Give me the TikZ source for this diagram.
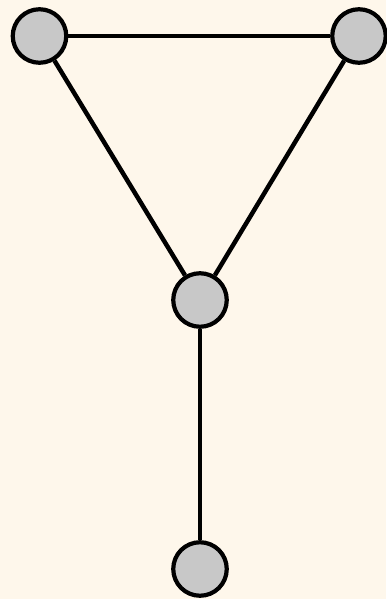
\documentclass[tikz,border=0pt]{standalone}
\begin{document}
\begin{tikzpicture}[x=1pt,y=-1pt,
  vtx/.style={circle,draw=black,fill=gray!45,line width=4.2pt,minimum size=53.5pt,inner sep=0pt},
  edge/.style={line width=4.5pt,draw=black}]
\definecolor{bgc}{HTML}{FEF7EB}
\fill[bgc] (0,0) rectangle (386,599);
\useasboundingbox (0,0) rectangle (386,599);
\definecolor{ng}{HTML}{C8C8C8}
\node[vtx,fill=ng] (a) at (39.5,36) {};
\node[vtx,fill=ng] (b) at (359,36) {};
\node[vtx,fill=ng] (c) at (200,300) {};
\node[vtx,fill=ng] (d) at (200,569) {};
\draw[edge] (a) -- (b);
\draw[edge] (a) -- (c);
\draw[edge] (b) -- (c);
\draw[edge] (c) -- (d);
\end{tikzpicture}
\end{document}
